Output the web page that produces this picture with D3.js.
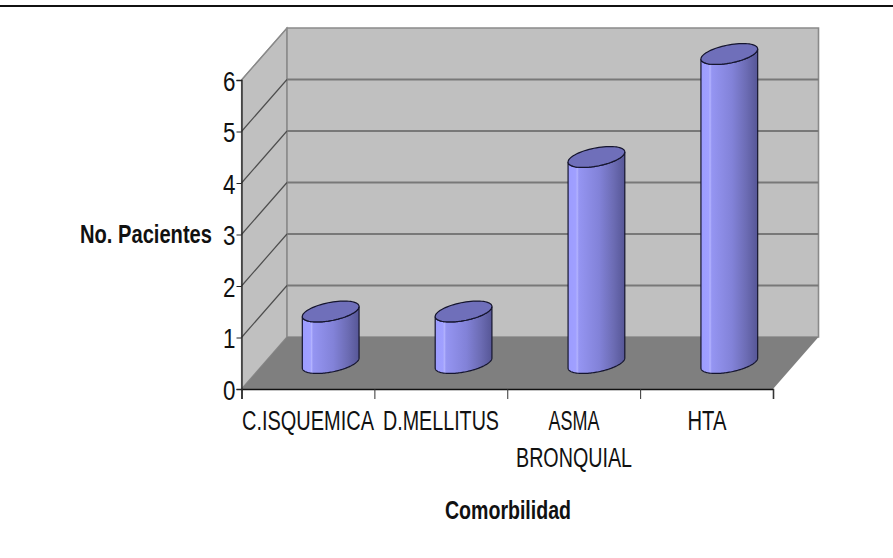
<!DOCTYPE html>
<html>
<head>
<meta charset="utf-8">
<script src="https://cdn.jsdelivr.net/npm/d3@7"></script>
<style>
html,body{margin:0;padding:0;background:#fff}
svg{display:block}
text{font-family:"Liberation Sans",Arial,sans-serif;fill:#111}
</style>
</head>
<body>
<div id="chart"></div>
<script>
// Comorbidity counts per patient group
const categories = ["C.ISQUEMICA", "D.MELLITUS", "ASMA BRONQUIAL", "HTA"];
const labelLines = [["C.ISQUEMICA"], ["D.MELLITUS"], ["ASMA", "BRONQUIAL"], ["HTA"]];
const patients = [1, 1, 4, 6];
const yTicks = [0, 1, 2, 3, 4, 5, 6];

const width = 893, height = 558;
const plot = {left: 241.5, right: 773, bottom: 389, top: 80};
const depth = {dx: 45.5, dy: -52};      // oblique offset from front plane to back wall
const barDepth = 0.5;                   // columns stand halfway into the floor

const svg = d3.select("#chart").append("svg").attr("width", width).attr("height", height);

const x = d3.scaleBand().domain(categories).range([plot.left, plot.right]);
const y = d3.scaleLinear().domain([0, 6]).range([plot.bottom, plot.top]);

// Rule across the top of the page
svg.append("line").attr("x1", 0).attr("x2", width).attr("y1", 6).attr("y2", 6)
  .attr("stroke", "#111").attr("stroke-width", 1.8);

const polygon = pts => "M" + pts.map(p => p.join(",")).join("L") + "Z";
const [x0, x1] = x.range();
const y0 = y(0), yMax = y(6);

// Side wall, back wall and floor
svg.append("path").attr("fill", "#c0c0c0").attr("stroke", "#8a8a8a").attr("stroke-width", 1.2)
  .attr("d", polygon([[x0, y0], [x0 + depth.dx, y0 + depth.dy], [x0 + depth.dx, yMax + depth.dy], [x0, yMax]]));
svg.append("path").attr("fill", "#c0c0c0").attr("stroke", "#8a8a8a").attr("stroke-width", 1.6)
  .attr("d", polygon([[x0 + depth.dx, y0 + depth.dy], [x1 + depth.dx, y0 + depth.dy], [x1 + depth.dx, yMax + depth.dy], [x0 + depth.dx, yMax + depth.dy]]));
svg.append("path").attr("fill", "#7f7f7f")
  .attr("d", polygon([[x0, y0], [x1, y0], [x1 + depth.dx, y0 + depth.dy], [x0 + depth.dx, y0 + depth.dy]]));

// Gridlines: diagonal on the side wall, horizontal on the back wall
const grid = svg.append("g");
grid.selectAll(".side").data(yTicks.slice(1)).join("line").attr("class", "side")
  .attr("x1", x0).attr("y1", d => y(d))
  .attr("x2", x0 + depth.dx).attr("y2", d => y(d) + depth.dy)
  .attr("stroke", d => d === 6 ? "#8a8a8a" : "#4d4d4d").attr("stroke-width", 1.2);
grid.selectAll(".back").data(yTicks.slice(1, -1)).join("line").attr("class", "back")
  .attr("x1", x0 + depth.dx).attr("y1", d => y(d) + depth.dy)
  .attr("x2", x1 + depth.dx).attr("y2", d => y(d) + depth.dy)
  .attr("stroke", "#787878").attr("stroke-width", 2);

// Shading across the cylinder body
const defs = svg.append("defs");
const grad = defs.append("linearGradient").attr("id", "body");
[[0, "#9c9cff"], [0.14, "#a0a0ff"], [0.16, "#b4b4ff"], [0.19, "#9595f2"], [0.55, "#8282d8"], [0.8, "#6c6cb4"], [1, "#565696"]]
  .forEach(([o, c]) => grad.append("stop").attr("offset", o).attr("stop-color", c));

// Cylinders
const rx = x.bandwidth() * 0.2135, ry = 9.2, skew = 5;
const angles = d3.range(0, 2 * Math.PI + 0.01, Math.PI / 36);
const rim = (cx, cy, from, to) => angles
  .map(t => from + (to - from) * t / (2 * Math.PI))
  .map(t => [cx + rx * Math.cos(t), cy + ry * Math.sin(t) - skew * Math.cos(t)]);
const curve = d3.line();

const bars = svg.append("g").selectAll("g").data(categories).join("g");
bars.each(function (c, i) {
  const g = d3.select(this);
  const cx = x(c) + x.bandwidth() / 2 + depth.dx * barDepth;
  const base = y(0) + depth.dy * barDepth;
  const top = y(patients[i]) + depth.dy * barDepth;
  const bottomArc = rim(cx, base, 0, Math.PI);          // right to left along the front
  const topArc = rim(cx, top, Math.PI, 0);              // left to right along the front
  g.append("path").attr("fill", "url(#body)").attr("stroke", "#15152e").attr("stroke-width", 1.2)
    .attr("d", curve(bottomArc.concat(topArc)) + "Z");
  g.append("path").attr("fill", "#6f6fba").attr("stroke", "#15152e").attr("stroke-width", 1.2)
    .attr("d", curve(rim(cx, top, 0, 2 * Math.PI)) + "Z");
});

// Axes
const squeeze = 0.8;
const yAxis = d3.axisLeft(y).tickValues(yTicks).tickFormat(d3.format("d")).tickSize(5).tickPadding(0);
const yG = svg.append("g").attr("transform", `translate(${x0},0)`).call(yAxis);
yG.select(".domain").attr("stroke", "#222").attr("stroke-width", 1.3);
yG.selectAll(".tick line").attr("stroke", "#222");
yG.selectAll(".tick text").attr("font-size", 28).attr("fill", "#111").attr("dy", "0.36em")
  .attr("x", 0).attr("text-anchor", "end").attr("transform", `translate(-6,0) scale(${squeeze},1)`);

const edges = d3.scalePoint().domain(d3.range(categories.length + 1)).range([x0, x1]);
const xAxis = d3.axisBottom(edges).tickSize(10).tickFormat("");
const xG = svg.append("g").attr("transform", `translate(0,${y0})`).call(xAxis);
xG.select(".domain").attr("stroke", "#111").attr("stroke-width", 1.5);
xG.selectAll(".tick line").attr("stroke", "#333");

// Horizontally condensed text block
const label = (txt, cx, cy, w, size, weight) => svg.append("text")
  .attr("x", cx - w / 2).attr("y", cy).attr("dy", "0.36em")
  .attr("font-size", size).attr("font-weight", weight)
  .attr("textLength", w).attr("lengthAdjust", "spacingAndGlyphs").text(txt);

const labelBoxes = [[[308, 132]], [[441, 116]], [[574, 51], [574, 116]], [[707, 39]]];
labelLines.forEach((lines, i) => lines.forEach((t, j) =>
  label(t, labelBoxes[i][j][0], 420 + j * 37, labelBoxes[i][j][1], 27, "normal")));

label("No. Pacientes", 146, 234, 132, 25, "bold");
label("Comorbilidad", 508, 510, 126, 25, "bold");
</script>
</body>
</html>
